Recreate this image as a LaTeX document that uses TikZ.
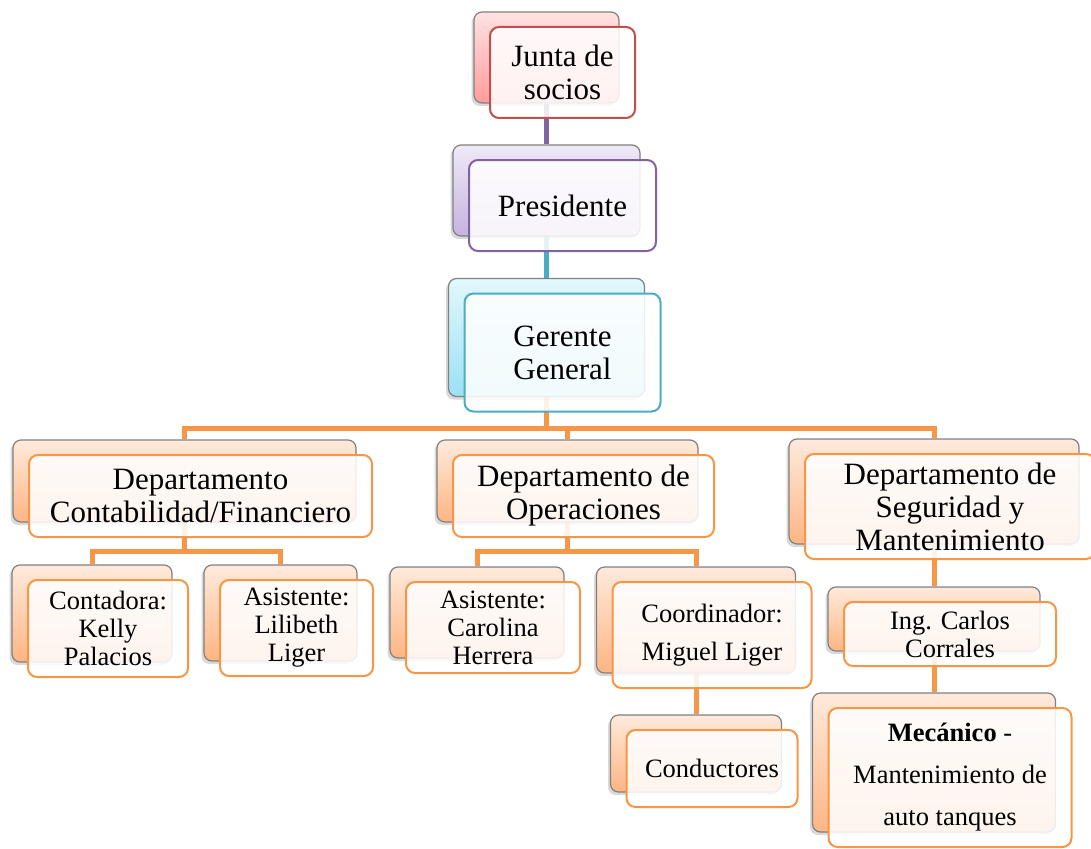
\documentclass[tikz,border=0pt]{standalone}
\usepackage{fontspec}
\setmainfont{Liberation Serif}
\usetikzlibrary{shadows,backgrounds}
\definecolor{redb}{HTML}{C0504D}
\definecolor{purb}{HTML}{8064A2}
\definecolor{cyab}{HTML}{4BACC6}
\definecolor{orab}{HTML}{F79646}
\definecolor{redT}{HTML}{FFE2E2}\definecolor{redB}{HTML}{FF9C9C}
\definecolor{purT}{HTML}{EFE9F7}\definecolor{purB}{HTML}{C6B2DF}
\definecolor{cyaT}{HTML}{E2F8FD}\definecolor{cyaB}{HTML}{9BE1F4}
\definecolor{oraT}{HTML}{FFEADC}\definecolor{oraB}{HTML}{FDB583}
\tikzset{
  backbox/.style={draw=black!50, line width=1.2pt, rounded corners=8pt, inner sep=0pt,
    drop shadow={shadow xshift=-2.5pt, shadow yshift=-3pt, opacity=0.3}},
  redback/.style={backbox, top color=redT, bottom color=redB},
  purback/.style={backbox, top color=purT, bottom color=purB},
  cyaback/.style={backbox, top color=cyaT, bottom color=cyaB},
  oraback/.style={backbox, top color=oraT, bottom color=oraB},
  frontbox/.style={line width=2pt, rounded corners=9pt, fill=white, fill opacity=0.86,
    text opacity=1, align=center, inner sep=0pt},
  bigtext/.style={font=\fontsize{31}{33}\selectfont},
  smalltext/.style={font=\fontsize{26.5}{28}\selectfont},
  conn/.style={line width=5pt},
  sz/.style 2 args={minimum width=#1pt, minimum height=#2pt},
}
\begin{document}
\begin{tikzpicture}[x=1pt,y=-1pt]
\useasboundingbox (0,0) rectangle (1091,848);
% Junta
\node[redback, sz={145}{91}] (Jb) at (546.5,57.5) {};
\node[frontbox, draw=redb, bigtext, sz={145}{91}] (J) at (562.5,72.5) {Junta de\\socios};
% Presidente
\node[purback, sz={187}{91}] (Pb) at (546.5,190.5) {};
\node[frontbox, draw=purb, bigtext, sz={187}{91}] (P) at (562.5,205.5) {Presidente};
% Gerente
\node[cyaback, sz={196}{118}] (Gb) at (546.5,337.5) {};
\node[frontbox, draw=cyab, bigtext, sz={196}{118}] (G) at (562.5,352.5) {Gerente\\General};
% Departments
\node[oraback, sz={343}{82}] (D1b) at (184.5,481) {};
\node[frontbox, draw=orab, bigtext, sz={343}{82}] (D1) at (200.5,496) {Departamento\\Contabilidad/Financiero};
\node[oraback, sz={261}{82}] (D2b) at (567.5,481) {};
\node[frontbox, draw=orab, bigtext, sz={261}{82}] (D2) at (583.5,496) {Departamento de\\Operaciones};
\node[oraback, sz={290}{105}] (D3b) at (934,491.5) {};
\node[frontbox, draw=orab, bigtext, sz={290}{105}] (D3) at (950,506.5) {Departamento de\\Seguridad y\\Mantenimiento};
% Level 3
\node[oraback, sz={160}{97}] (C1b) at (92,613.5) {};
\node[frontbox, draw=orab, smalltext, sz={160}{97}] (C1) at (108,628.5) {Contadora:\\Kelly\\Palacios};
\node[oraback, sz={153}{96}] (C2b) at (280.5,613) {};
\node[frontbox, draw=orab, smalltext, sz={153}{96}] (C2) at (296.5,628) {Asistente:\\Lilibeth\\Liger};
\node[oraback, sz={174}{91}] (C3b) at (477,612.5) {};
\node[frontbox, draw=orab, smalltext, sz={174}{91}] (C3) at (493,627.5) {Asistente:\\Carolina\\Herrera};
\node[oraback, sz={199}{106}] (C4b) at (696,620) {};
\node[frontbox, draw=orab, font=\fontsize{26.5}{38}\selectfont, sz={199}{106}] (C4) at (712,635) {Coordinador:\\Miguel Liger};
\node[oraback, sz={171}{77}] (C5b) at (696,753.5) {};
\node[frontbox, draw=orab, smalltext, sz={171}{77}] (C5) at (712,768.5) {Conductores};
\node[oraback, sz={212}{64}] (C6b) at (934,619) {};
\node[frontbox, draw=orab, smalltext, sz={212}{64}] (C6) at (950,634) {Ing. Carlos\\Corrales};
\node[oraback, sz={243}{139}] (C7b) at (934,762.5) {};
\node[frontbox, draw=orab, font=\fontsize{26.5}{42}\selectfont, sz={243}{139}] (C7) at (950,777.5) {\textbf{Mecánico} -\\Mantenimiento de\\auto tanques};
% connectors
\coordinate (bus1) at (0,428);
\coordinate (bus2) at (0,551);
\begin{pgfonlayer}{background}
\draw[conn, purb] (Jb.south) -- (Pb.north);
\draw[conn, cyab] (Pb.south) -- (Gb.north);
\draw[conn, orab] (Gb.south) -- (Gb.south |- bus1) -| (D1b.north);
\draw[conn, orab] (Gb.south |- bus1) -| (D2b.north);
\draw[conn, orab] (Gb.south |- bus1) -| (D3b.north);
\draw[conn, orab] (D1b.south) -- (D1b.south |- bus2) -| (C1b.north);
\draw[conn, orab] (D1b.south |- bus2) -| (C2b.north);
\draw[conn, orab] (D2b.south) -- (D2b.south |- bus2) -| (C3b.north);
\draw[conn, orab] (D2b.south |- bus2) -| (C4b.north);
\draw[conn, orab] (D3b.south) -- (C6b.north);
\draw[conn, orab] (C6b.south) -- (C7b.north);
\draw[conn, orab] (C4b.south) -- (C5b.north);
\end{pgfonlayer}
\end{tikzpicture}
\end{document}
